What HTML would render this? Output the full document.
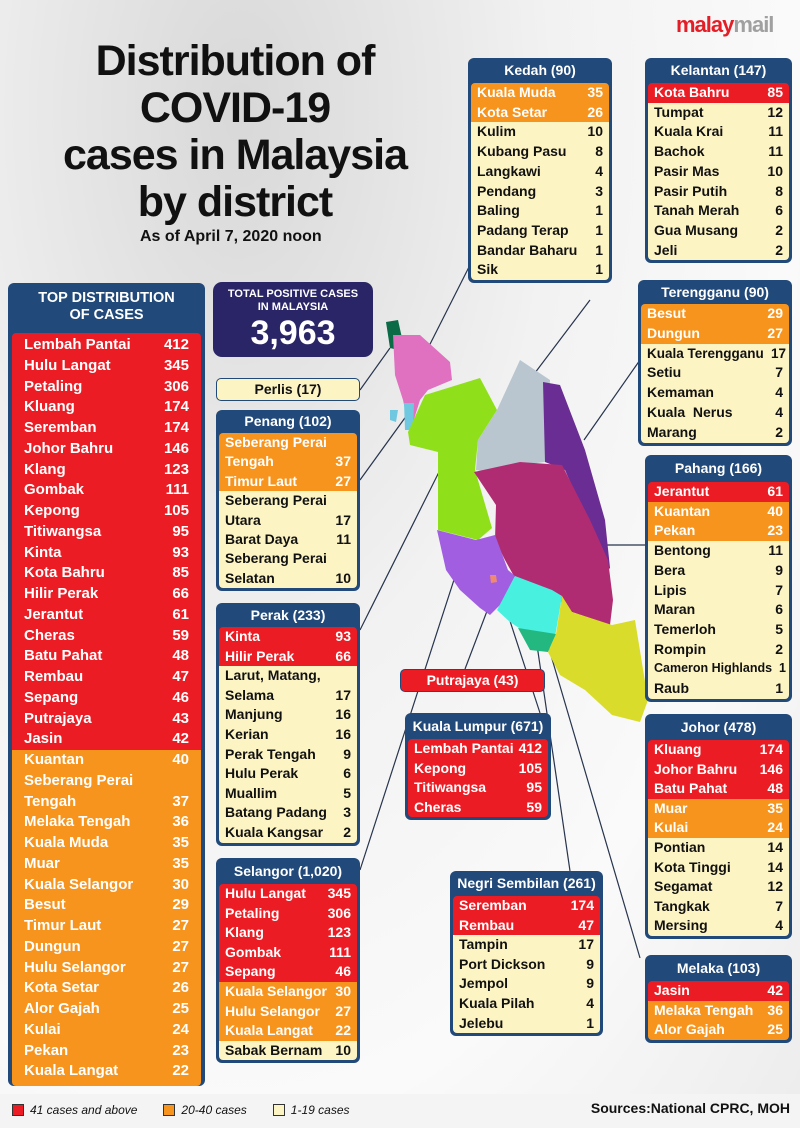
<!DOCTYPE html>
<html><head><meta charset="utf-8"><style>
*{margin:0;padding:0;box-sizing:border-box}
body{width:800px;height:1128px;position:relative;overflow:hidden;font-family:"Liberation Sans",sans-serif;background:radial-gradient(ellipse at 30% 10%,#d8d8d8,#f2f2f2 40%,#fafafa 70%,#ececec);color:#111}
.abs{position:absolute}
.p{position:absolute;background:#21497a;border-radius:6px;padding:0 3px 3px 3px}
.p .h{color:#fff;font-weight:bold;text-align:center;font-size:14px}
.p .b{border-radius:4px;overflow:hidden}
.r{display:flex;justify-content:space-between;font-weight:bold;font-size:14px;padding:0 6px 0 6px;white-space:nowrap}
.R{background:#ec1c24;color:#fff}.O{background:#f7941d;color:#fff}.Y{background:#fdf4c3;color:#111}
.title{position:absolute;left:40px;width:390px;text-align:center;font-weight:bold;font-size:43px;line-height:47px;letter-spacing:-1px;top:38px}
</style></head><body>
<div class="title">Distribution of<br>COVID-19<br>cases in Malaysia<br>by district</div>
<div class="abs" style="left:140px;top:228px;font-weight:bold;font-size:16px">As of April 7, 2020 noon</div>
<div class="abs" style="left:676px;top:12px;font-weight:bold;font-size:22px;color:#e41e26;letter-spacing:-1px">malay<span style="color:#a0a0a0">mail</span></div>

<svg class="abs" style="left:0;top:0" width="800" height="1128">
<g stroke="#27344d" stroke-width="1.2" fill="none">
<line x1="360" y1="390" x2="390" y2="348"/><line x1="422" y1="360" x2="470" y2="265"/>
<line x1="516" y1="398" x2="590" y2="300"/><line x1="584" y1="440" x2="640" y2="360"/>
<line x1="560" y1="545" x2="645" y2="545"/><line x1="360" y1="480" x2="407" y2="415"/>
<line x1="360" y1="630" x2="446" y2="458"/><line x1="360" y1="870" x2="463" y2="552"/>
<line x1="465" y1="669" x2="495" y2="590"/><line x1="540" y1="713" x2="495" y2="575"/>
<line x1="570" y1="871" x2="530" y2="597"/><line x1="640" y1="958" x2="545" y2="635"/>
<line x1="645" y1="705" x2="612" y2="665"/>
</g>
<polygon fill="#0b6b46" points="386,322 398,320 402,338 398,350 390,348"/>
<polygon fill="#e070c0" points="393,335 420,335 450,362 452,380 428,390 420,400 410,432 403,400 395,375"/>
<polygon fill="#70c8e0" points="404,403 414,403 413,430 405,430"/><polygon fill="#70c8e0" points="390,410 398,410 396,422 390,420"/>
<polygon fill="#8fe01a" points="408,432 425,395 480,378 497,410 478,440 475,470 492,528 478,540 438,530 438,452 410,445"/>
<polygon fill="#b9c6d0" points="497,410 520,360 550,380 545,462 520,465 492,472 476,470 478,440"/>
<polygon fill="#6a2d93" points="543,382 560,385 585,450 605,520 610,568 603,575 596,540 565,470 545,462"/>
<polygon fill="#b02c72" points="474,472 520,462 562,465 590,520 608,560 613,600 610,625 572,612 550,592 515,578 505,560 495,540 496,505"/>
<polygon fill="#a25ee0" points="437,530 476,540 495,535 508,570 515,576 500,605 490,615 480,608 460,590 446,570"/>
<polygon fill="#ef8a70" points="490,575 496,575 497,582 491,583"/>
<polygon fill="#48f0e0" points="515,576 552,590 562,596 555,637 528,634 510,622 497,610"/>
<polygon fill="#23b880" points="518,628 556,634 548,652 530,650"/>
<polygon fill="#d9dc2a" points="562,596 572,612 612,625 635,620 648,700 640,722 612,715 585,690 560,675 548,652 556,634"/>
</svg>

<!-- left panel -->
<div class="p" style="left:8px;top:283px;width:197px;height:803px;padding:0 4px 4px 4px">
<div class="h" style="height:50px;padding-top:7px;font-size:14.5px;line-height:17px">TOP DISTRIBUTION<br>OF CASES</div>
<div class="b" style="line-height:20.75px;font-size:15px">
<div class="R" style="padding-top:2px">
<div class="r" style="font-size:15px;padding:0 12px"><span>Lembah Pantai</span><span>412</span></div>
<div class="r" style="font-size:15px;padding:0 12px"><span>Hulu Langat</span><span>345</span></div>
<div class="r" style="font-size:15px;padding:0 12px"><span>Petaling</span><span>306</span></div>
<div class="r" style="font-size:15px;padding:0 12px"><span>Kluang</span><span>174</span></div>
<div class="r" style="font-size:15px;padding:0 12px"><span>Seremban</span><span>174</span></div>
<div class="r" style="font-size:15px;padding:0 12px"><span>Johor Bahru</span><span>146</span></div>
<div class="r" style="font-size:15px;padding:0 12px"><span>Klang</span><span>123</span></div>
<div class="r" style="font-size:15px;padding:0 12px"><span>Gombak</span><span>111</span></div>
<div class="r" style="font-size:15px;padding:0 12px"><span>Kepong</span><span>105</span></div>
<div class="r" style="font-size:15px;padding:0 12px"><span>Titiwangsa</span><span>95</span></div>
<div class="r" style="font-size:15px;padding:0 12px"><span>Kinta</span><span>93</span></div>
<div class="r" style="font-size:15px;padding:0 12px"><span>Kota Bahru</span><span>85</span></div>
<div class="r" style="font-size:15px;padding:0 12px"><span>Hilir Perak</span><span>66</span></div>
<div class="r" style="font-size:15px;padding:0 12px"><span>Jerantut</span><span>61</span></div>
<div class="r" style="font-size:15px;padding:0 12px"><span>Cheras</span><span>59</span></div>
<div class="r" style="font-size:15px;padding:0 12px"><span>Batu Pahat</span><span>48</span></div>
<div class="r" style="font-size:15px;padding:0 12px"><span>Rembau</span><span>47</span></div>
<div class="r" style="font-size:15px;padding:0 12px"><span>Sepang</span><span>46</span></div>
<div class="r" style="font-size:15px;padding:0 12px"><span>Putrajaya</span><span>43</span></div>
<div class="r" style="font-size:15px;padding:0 12px"><span>Jasin</span><span>42</span></div>
</div>
<div class="O" style="padding-bottom:4px">
<div class="r" style="font-size:15px;padding:0 12px"><span>Kuantan</span><span>40</span></div>
<div class="r" style="font-size:15px;padding:0 12px"><span>Seberang Perai</span><span></span></div>
<div class="r" style="font-size:15px;padding:0 12px"><span>Tengah</span><span>37</span></div>
<div class="r" style="font-size:15px;padding:0 12px"><span>Melaka Tengah</span><span>36</span></div>
<div class="r" style="font-size:15px;padding:0 12px"><span>Kuala Muda</span><span>35</span></div>
<div class="r" style="font-size:15px;padding:0 12px"><span>Muar</span><span>35</span></div>
<div class="r" style="font-size:15px;padding:0 12px"><span>Kuala Selangor</span><span>30</span></div>
<div class="r" style="font-size:15px;padding:0 12px"><span>Besut</span><span>29</span></div>
<div class="r" style="font-size:15px;padding:0 12px"><span>Timur Laut</span><span>27</span></div>
<div class="r" style="font-size:15px;padding:0 12px"><span>Dungun</span><span>27</span></div>
<div class="r" style="font-size:15px;padding:0 12px"><span>Hulu Selangor</span><span>27</span></div>
<div class="r" style="font-size:15px;padding:0 12px"><span>Kota Setar</span><span>26</span></div>
<div class="r" style="font-size:15px;padding:0 12px"><span>Alor Gajah</span><span>25</span></div>
<div class="r" style="font-size:15px;padding:0 12px"><span>Kulai</span><span>24</span></div>
<div class="r" style="font-size:15px;padding:0 12px"><span>Pekan</span><span>23</span></div>
<div class="r" style="font-size:15px;padding:0 12px"><span>Kuala Langat</span><span>22</span></div>
</div></div></div>

<!-- total -->
<div class="abs" style="left:213px;top:282px;width:160px;height:75px;background:#2a2566;border-radius:9px;color:#fff;text-align:center;font-weight:bold">
<div style="font-size:11px;line-height:13px;padding-top:6px">TOTAL POSITIVE CASES<br>IN MALAYSIA</div>
<div style="font-size:34px;line-height:38px">3,963</div></div>

<div class="abs" style="left:216px;top:378px;width:144px;height:23px;background:#fdf4c3;border:1.5px solid #21497a;border-radius:5px;text-align:center;font-weight:bold;font-size:14px;line-height:20px">Perlis (17)</div>
<div class="abs" style="left:400px;top:669px;width:145px;height:23px;background:#ec1c24;border:1.5px solid #21497a;border-radius:5px;text-align:center;font-weight:bold;font-size:14px;line-height:20px;color:#fff">Putrajaya (43)</div>

<!-- Penang -->
<div class="p" style="left:216px;top:410px;width:144px"><div class="h" style="height:23px;line-height:23px">Penang (102)</div><div class="b" style="line-height:19.4px">
<div class="O"><div class="r"><span>Seberang Perai</span><span></span></div><div class="r"><span>Tengah</span><span>37</span></div><div class="r"><span>Timur Laut</span><span>27</span></div></div>
<div class="Y"><div class="r"><span>Seberang Perai</span><span></span></div><div class="r"><span>Utara</span><span>17</span></div><div class="r"><span>Barat Daya</span><span>11</span></div><div class="r"><span>Seberang Perai</span><span></span></div><div class="r"><span>Selatan</span><span>10</span></div></div></div></div>

<!-- Perak -->
<div class="p" style="left:216px;top:603px;width:144px"><div class="h" style="height:24px;line-height:24px">Perak (233)</div><div class="b" style="line-height:19.6px">
<div class="R"><div class="r"><span>Kinta</span><span>93</span></div><div class="r"><span>Hilir Perak</span><span>66</span></div></div>
<div class="Y"><div class="r"><span>Larut, Matang,</span><span></span></div><div class="r"><span>Selama</span><span>17</span></div><div class="r"><span>Manjung</span><span>16</span></div><div class="r"><span>Kerian</span><span>16</span></div><div class="r"><span>Perak Tengah</span><span>9</span></div><div class="r"><span>Hulu Perak</span><span>6</span></div><div class="r"><span>Muallim</span><span>5</span></div><div class="r"><span>Batang Padang</span><span>3</span></div><div class="r"><span>Kuala Kangsar</span><span>2</span></div></div></div></div>

<!-- Selangor -->
<div class="p" style="left:216px;top:858px;width:144px"><div class="h" style="height:26px;line-height:26px">Selangor (1,020)</div><div class="b" style="line-height:19.6px">
<div class="R"><div class="r"><span>Hulu Langat</span><span>345</span></div><div class="r"><span>Petaling</span><span>306</span></div><div class="r"><span>Klang</span><span>123</span></div><div class="r"><span>Gombak</span><span>111</span></div><div class="r"><span>Sepang</span><span>46</span></div></div>
<div class="O"><div class="r"><span>Kuala Selangor</span><span>30</span></div><div class="r"><span>Hulu Selangor</span><span>27</span></div><div class="r"><span>Kuala Langat</span><span>22</span></div></div>
<div class="Y"><div class="r"><span>Sabak Bernam</span><span>10</span></div></div></div></div>

<!-- Kedah -->
<div class="p" style="left:468px;top:58px;width:144px"><div class="h" style="height:25px;line-height:25px">Kedah (90)</div><div class="b" style="line-height:19.7px">
<div class="O"><div class="r"><span>Kuala Muda</span><span>35</span></div><div class="r"><span>Kota Setar</span><span>26</span></div></div>
<div class="Y"><div class="r"><span>Kulim</span><span>10</span></div><div class="r"><span>Kubang Pasu</span><span>8</span></div><div class="r"><span>Langkawi</span><span>4</span></div><div class="r"><span>Pendang</span><span>3</span></div><div class="r"><span>Baling</span><span>1</span></div><div class="r"><span>Padang Terap</span><span>1</span></div><div class="r"><span>Bandar Baharu</span><span>1</span></div><div class="r"><span>Sik</span><span>1</span></div></div></div></div>

<!-- Kelantan -->
<div class="p" style="left:645px;top:58px;width:147px"><div class="h" style="height:25px;line-height:25px">Kelantan (147)</div><div class="b" style="line-height:19.7px">
<div class="R"><div class="r"><span>Kota Bahru</span><span>85</span></div></div>
<div class="Y"><div class="r"><span>Tumpat</span><span>12</span></div><div class="r"><span>Kuala Krai</span><span>11</span></div><div class="r"><span>Bachok</span><span>11</span></div><div class="r"><span>Pasir Mas</span><span>10</span></div><div class="r"><span>Pasir Putih</span><span>8</span></div><div class="r"><span>Tanah Merah</span><span>6</span></div><div class="r"><span>Gua Musang</span><span>2</span></div><div class="r"><span>Jeli</span><span>2</span></div></div></div></div>

<!-- Terengganu -->
<div class="p" style="left:638px;top:280px;width:154px"><div class="h" style="height:24px;line-height:24px">Terengganu (90)</div><div class="b" style="line-height:19.8px">
<div class="O"><div class="r"><span>Besut</span><span>29</span></div><div class="r"><span>Dungun</span><span>27</span></div></div>
<div class="Y"><div class="r" style="padding-right:3px;font-size:13.5px"><span>Kuala Terengganu</span><span>17</span></div><div class="r"><span>Setiu</span><span>7</span></div><div class="r"><span>Kemaman</span><span>4</span></div><div class="r"><span>Kuala &nbsp;Nerus</span><span>4</span></div><div class="r"><span>Marang</span><span>2</span></div></div></div></div>

<!-- Pahang -->
<div class="p" style="left:645px;top:455px;width:147px"><div class="h" style="height:27px;line-height:27px">Pahang (166)</div><div class="b" style="line-height:19.7px">
<div class="R"><div class="r"><span>Jerantut</span><span>61</span></div></div>
<div class="O"><div class="r"><span>Kuantan</span><span>40</span></div><div class="r"><span>Pekan</span><span>23</span></div></div>
<div class="Y"><div class="r"><span>Bentong</span><span>11</span></div><div class="r"><span>Bera</span><span>9</span></div><div class="r"><span>Lipis</span><span>7</span></div><div class="r"><span>Maran</span><span>6</span></div><div class="r"><span>Temerloh</span><span>5</span></div><div class="r"><span>Rompin</span><span>2</span></div><div class="r" style="font-size:12.5px;padding-right:3px"><span>Cameron Highlands</span><span>1</span></div><div class="r"><span>Raub</span><span>1</span></div></div></div></div>

<!-- Johor -->
<div class="p" style="left:645px;top:714px;width:147px"><div class="h" style="height:26px;line-height:26px">Johor (478)</div><div class="b" style="line-height:19.6px">
<div class="R"><div class="r"><span>Kluang</span><span>174</span></div><div class="r"><span>Johor Bahru</span><span>146</span></div><div class="r"><span>Batu Pahat</span><span>48</span></div></div>
<div class="O"><div class="r"><span>Muar</span><span>35</span></div><div class="r"><span>Kulai</span><span>24</span></div></div>
<div class="Y"><div class="r"><span>Pontian</span><span>14</span></div><div class="r"><span>Kota Tinggi</span><span>14</span></div><div class="r"><span>Segamat</span><span>12</span></div><div class="r"><span>Tangkak</span><span>7</span></div><div class="r"><span>Mersing</span><span>4</span></div></div></div></div>

<!-- Melaka -->
<div class="p" style="left:645px;top:955px;width:147px"><div class="h" style="height:26px;line-height:26px">Melaka (103)</div><div class="b" style="line-height:19.6px">
<div class="R"><div class="r"><span>Jasin</span><span>42</span></div></div>
<div class="O"><div class="r"><span>Melaka Tengah</span><span>36</span></div><div class="r"><span>Alor Gajah</span><span>25</span></div></div></div></div>

<!-- KL -->
<div class="p" style="left:405px;top:713px;width:146px"><div class="h" style="height:26px;line-height:26px">Kuala Lumpur (671)</div><div class="b" style="line-height:19.6px">
<div class="R"><div class="r"><span>Lembah Pantai</span><span>412</span></div><div class="r"><span>Kepong</span><span>105</span></div><div class="r"><span>Titiwangsa</span><span>95</span></div><div class="r"><span>Cheras</span><span>59</span></div></div></div></div>

<!-- NS -->
<div class="p" style="left:450px;top:871px;width:153px"><div class="h" style="height:25px;line-height:25px">Negri Sembilan (261)</div><div class="b" style="line-height:19.6px">
<div class="R"><div class="r"><span>Seremban</span><span>174</span></div><div class="r"><span>Rembau</span><span>47</span></div></div>
<div class="Y"><div class="r"><span>Tampin</span><span>17</span></div><div class="r"><span>Port Dickson</span><span>9</span></div><div class="r"><span>Jempol</span><span>9</span></div><div class="r"><span>Kuala Pilah</span><span>4</span></div><div class="r"><span>Jelebu</span><span>1</span></div></div></div></div>

<!-- legend -->
<div class="abs" style="left:0;top:1094px;width:800px;height:34px;background:#f4f4f4"></div>
<div class="abs" style="left:12px;top:1103px;font-size:12px;font-style:italic;display:flex;align-items:center;gap:6px">
<span style="width:12px;height:12px;background:#ec1c24;border:1px solid #333;display:inline-block"></span>41 cases and above
<span style="width:12px;height:12px;background:#f7941d;border:1px solid #333;display:inline-block;margin-left:20px"></span>20-40 cases
<span style="width:12px;height:12px;background:#fdf4c3;border:1px solid #333;display:inline-block;margin-left:20px"></span>1-19 cases</div>
<div class="abs" style="right:10px;top:1100px;font-weight:bold;font-size:14px">Sources:National CPRC, MOH</div>
</body></html>
